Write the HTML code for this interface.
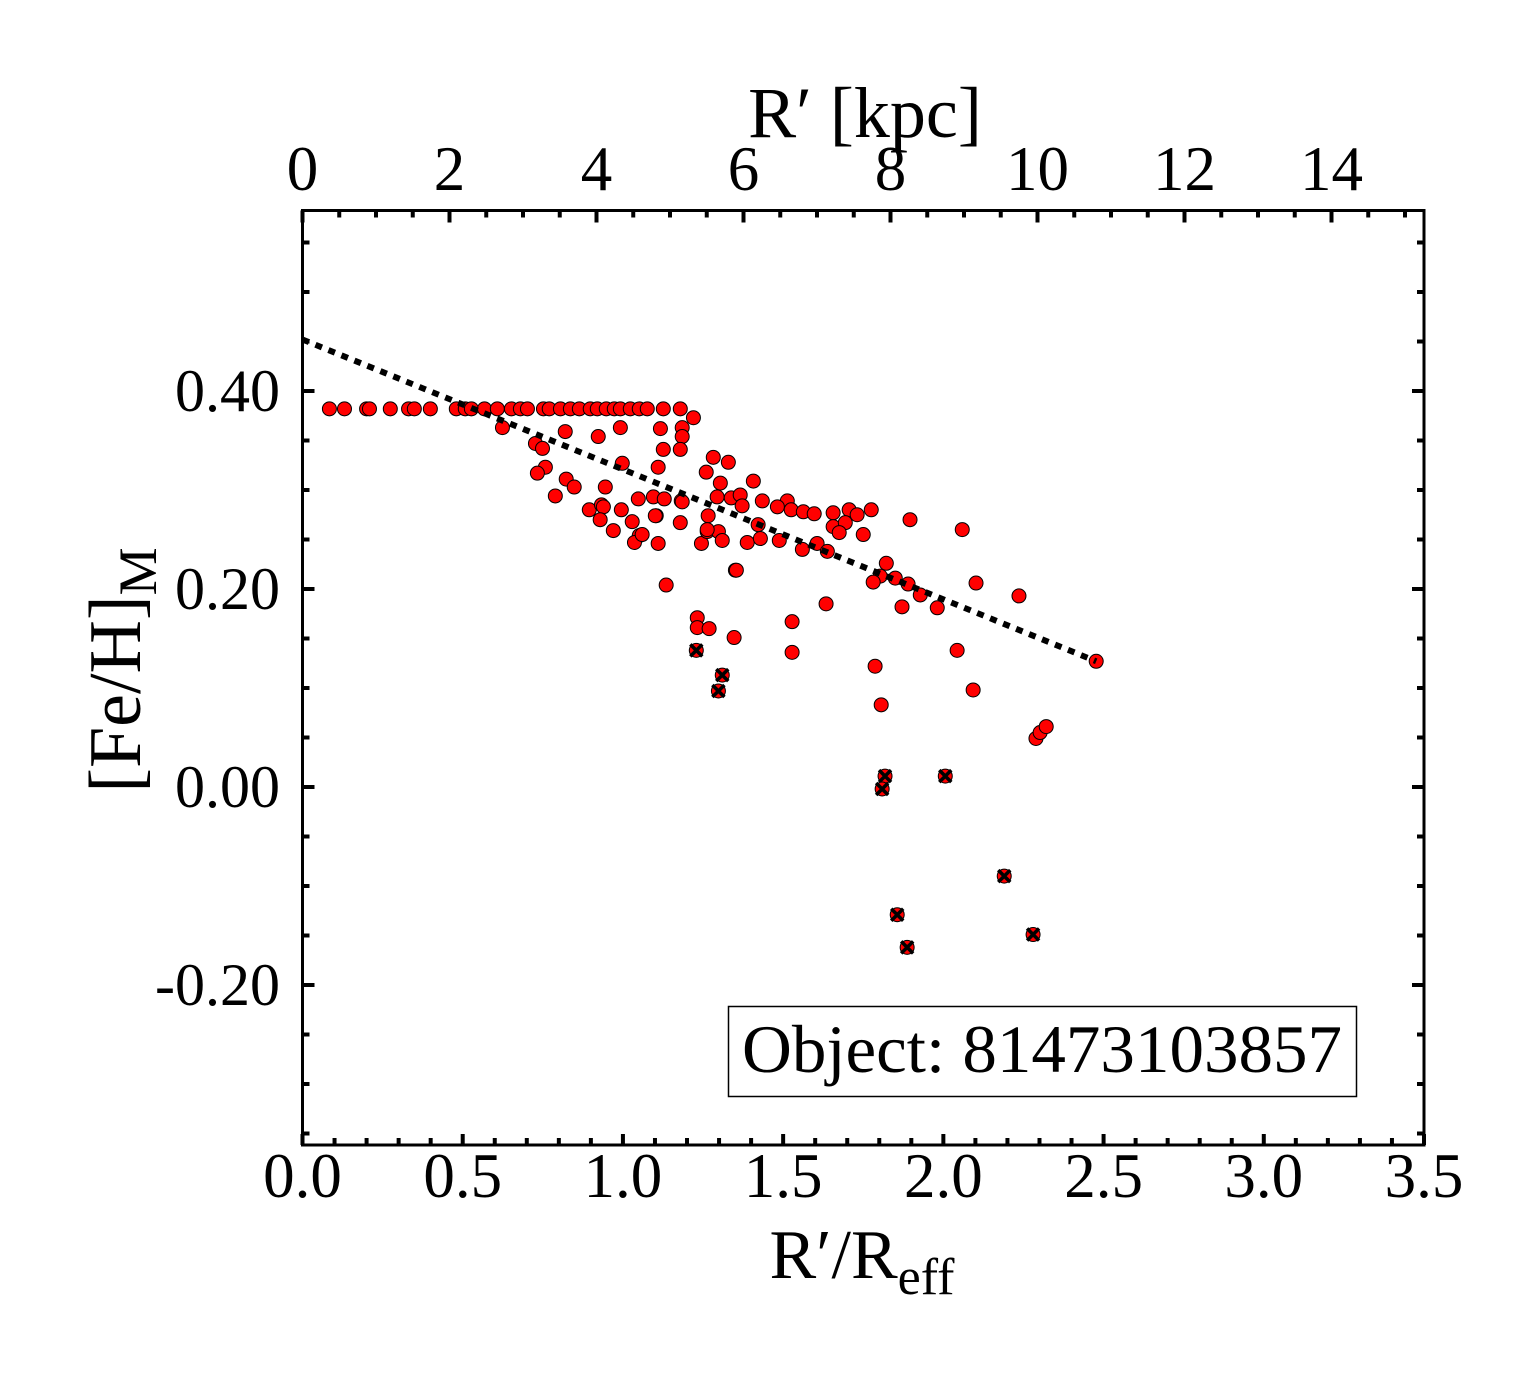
<!DOCTYPE html>
<html><head><meta charset="utf-8"><style>
html,body{margin:0;padding:0;background:#fff;}
svg text{font-family:"Liberation Serif",serif;fill:#000;}
</style></head><body>
<svg id="chart" width="1540" height="1375" xmlns="http://www.w3.org/2000/svg">
<g id="ticks"></g>
<g id="labels"></g>
<g id="marks"></g>
<rect x="302.5" y="210.5" width="1121.5" height="934.5" fill="none" stroke="#000" stroke-width="3"/>
<text x="862" y="1278" font-size="70" text-anchor="middle">R′/R<tspan font-size="52" dy="16">eff</tspan></text>
<text x="865" y="137" font-size="72" text-anchor="middle">R′ [kpc]</text>
<text transform="translate(140,670) rotate(-90)" font-size="74" text-anchor="middle">[Fe/H]<tspan font-size="54" dy="16">M</tspan></text>
<g>
<rect x="728.5" y="1006.5" width="628" height="90" fill="#fff" stroke="#000" stroke-width="1.5"/>
<text x="1042" y="1072" font-size="68" text-anchor="middle" textLength="600" lengthAdjust="spacingAndGlyphs">Object: 81473103857</text>
</g>
</svg>
<script>
// data
const xTickLabels = ["0.0","0.5","1.0","1.5","2.0","2.5","3.0","3.5"];
const xTickValues = [0,0.5,1,1.5,2,2.5,3,3.5];
const yTickLabels = ["-0.20","0.00","0.20","0.40"];
const yTickValues = [-0.2,0,0.2,0.4];
const kpcTickValues = [0,2,4,6,8,10,12,14];
const kpcTickLabels = ["0","2","4","6","8","10","12","14"];
const fitStart = [0, 0.452];
const fitEnd = [2.477, 0.127];
const rowX = [0.084,0.131,0.200,0.209,0.274,0.331,0.349,0.399,0.480,0.508,0.527,0.568,0.608,0.652,0.680,0.702,0.752,0.770,0.805,0.836,0.864,0.898,0.920,0.948,0.973,0.992,1.023,1.051,1.076,1.126,1.179];
const rowY = 0.382;
const ptsX = [1.220,0.624,0.820,0.923,0.992,1.117,1.185,1.185,1.126,1.179,0.727,0.749,0.758,0.733,0.998,1.110,1.282,1.329,1.260,0.823,0.848,0.789,0.945,1.048,1.095,1.129,1.182,1.304,1.294,0.895,0.933,0.939,0.995,0.929,1.029,1.104,1.266,1.179,0.970,1.051,1.036,1.110,1.245,1.263,1.298,1.310,1.351,1.135,
1.407,1.338,1.366,1.372,1.435,1.513,1.482,1.525,1.563,1.597,1.656,1.706,1.731,1.775,1.656,1.694,1.675,1.750,1.896,2.059,1.263,1.388,1.429,1.488,1.422,1.185,1.101,1.060,1.560,1.606,1.638,1.822,1.803,1.781,1.850,1.890,1.928,1.871,1.981,2.102,2.236,1.354,1.634,1.232,1.232,1.269,1.347,1.528,1.528,1.787,2.043,2.093,1.806,2.289,2.302,2.321,2.477];
const ptsY = [0.373,0.363,0.359,0.354,0.363,0.362,0.363,0.354,0.341,0.341,0.347,0.342,0.323,0.317,0.327,0.323,0.333,0.328,0.318,0.311,0.303,0.294,0.303,0.291,0.293,0.291,0.289,0.307,0.293,0.280,0.285,0.283,0.280,0.270,0.268,0.274,0.274,0.267,0.259,0.254,0.247,0.246,0.246,0.258,0.258,0.249,0.219,0.204,
0.309,0.292,0.295,0.284,0.289,0.289,0.283,0.280,0.278,0.276,0.277,0.280,0.275,0.280,0.263,0.267,0.257,0.255,0.270,0.260,0.260,0.247,0.251,0.249,0.265,0.288,0.274,0.255,0.240,0.246,0.238,0.226,0.213,0.207,0.211,0.205,0.194,0.182,0.181,0.206,0.193,0.219,0.185,0.171,0.161,0.160,0.151,0.167,0.136,0.122,0.138,0.098,0.083,0.049,0.055,0.061,0.127];
const crossX = [1.229,1.310,1.298,1.818,1.809,2.006,2.190,1.856,1.887,2.280];
const crossY = [0.138,0.113,0.097,0.011,-0.002,0.011,-0.090,-0.129,-0.162,-0.149];

const NS="http://www.w3.org/2000/svg";
const X0=302.5,X1=1424,Y0=1145,Y1=210.5;
const sx=v=>X0+v/3.5*(X1-X0);
const sy=v=>787-(v)*990;
const sk=v=>X0+v*73.5;
function mk(tag,attrs,parent){const e=document.createElementNS(NS,tag);for(const k in attrs)e.setAttribute(k,attrs[k]);parent.appendChild(e);return e;}
const T=document.getElementById('ticks'),L=document.getElementById('labels'),M=document.getElementById('marks');
for(let i=0;i<=35;i++){const v=i/10,x=sx(v),maj=(i%5===0);const len=maj?11:7;
 const t=mk('line',{x1:x,x2:x,y1:Y0,y2:Y0-len,stroke:'#000','stroke-width':4},T);
 
 }
for(let i=0;i<=30;i++){const v=i/2,x=sk(v);if(x>X1+1)break;const maj=(i%4===0);const len=maj?12:7;
 const t=mk('line',{x1:x,x2:x,y1:Y1,y2:Y1+len,stroke:'#000','stroke-width':4},T);
 
 }
for(let i=-7;i<=11;i++){const v=i*0.05,y=sy(v);if(y>Y0+1||y<Y1-1)continue;const maj=(i%4===0);const len=maj?12:7;
 const a=mk('line',{x1:X0,x2:X0+len,y1:y,y2:y,stroke:'#000','stroke-width':4},T);
 
 
 const b=mk('line',{x1:X1,x2:X1-len,y1:y,y2:y,stroke:'#000','stroke-width':4},T);
 
 }
xTickValues.forEach((v,i)=>{const t=mk('text',{x:sx(v),y:1197,'font-size':63,'text-anchor':'middle'},L);t.textContent=xTickLabels[i];
 
 });
kpcTickValues.forEach((v,i)=>{const t=mk('text',{x:sk(v),y:190,'font-size':63,'text-anchor':'middle'},L);t.textContent=kpcTickLabels[i];
 
 });
yTickValues.forEach((v,i)=>{const t=mk('text',{x:280,y:sy(v)+20,'font-size':60,'text-anchor':'end'},L);t.textContent=yTickLabels[i];
 
 });
function dot(x,y){const c=mk('circle',{cx:sx(x),cy:sy(y),r:7,fill:'#ff0000',stroke:'#000','stroke-width':1},M);
 
 }
rowX.forEach(x=>dot(x,rowY));
ptsX.forEach((x,i)=>dot(x,ptsY[i]));
crossX.forEach((x,i)=>{const cx=sx(x),cy=sy(crossY[i]);
 const g=mk('g',{},M);
 
 
 mk('circle',{cx:cx,cy:cy,r:7,fill:'#ff0000',stroke:'#000','stroke-width':1},g);
 mk('path',{d:`M${cx-6} ${cy-6}L${cx+6} ${cy+6}M${cx+6} ${cy-6}L${cx-6} ${cy+6}`,stroke:'#000','stroke-width':3.5},g);});
const fl=mk('line',{x1:sx(fitStart[0]),y1:sy(fitStart[1]),x2:sx(fitEnd[0]),y2:sy(fitEnd[1]),stroke:'#000','stroke-width':6,'stroke-dasharray':'7 7'},M);


</script>
</body></html>
